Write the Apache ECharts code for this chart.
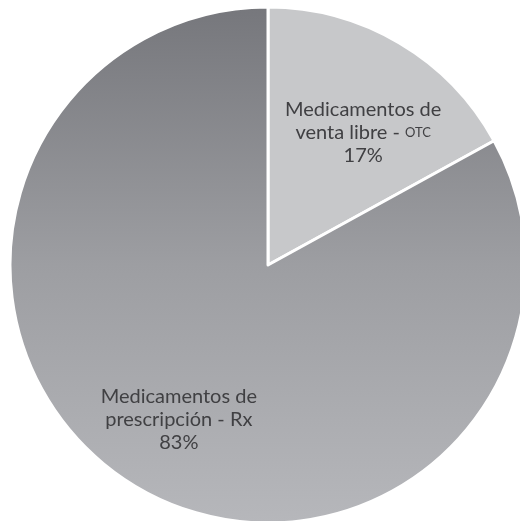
<!DOCTYPE html>
<html><head><meta charset="utf-8">
<script src="https://cdn.jsdelivr.net/npm/echarts@6/dist/echarts.min.js"></script>
<style>html,body{margin:0;padding:0;background:#fff}#c{width:520px;height:521px}</style>
</head><body><div id="c"></div>
<script>
const categories = ['Medicamentos de venta libre - OTC', 'Medicamentos de prescripción - Rx'];
const labelLine1 = ['Medicamentos de', 'Medicamentos de'];
const labelLine2 = ['venta libre - ', 'prescripción - Rx'];
const labelSmallCaps = ['OTC', ''];
const values = [17, 83];

const chart = echarts.init(document.getElementById('c'));
const cx = 268, cy = 265, R = 258;
const offsets = [[28, -19], [-22, 41]];
const fills = [
  '#c7c8ca',
  {type: 'linear', x: 0, y: cy - R, x2: 0, y2: cy + R, global: true,
   colorStops: [{offset: 0, color: '#76777c'}, {offset: 0.5, color: '#9d9ea2'}, {offset: 1, color: '#b6b7bb'}]}
];
const data = categories.map((name, i) => ({
  name, value: values[i],
  itemStyle: {color: fills[i]},
  label: {
    offset: offsets[i],
    formatter: '{a|' + labelLine1[i] + '}\n{a|' + labelLine2[i] + '}' + (labelSmallCaps[i] ? '{sc|' + labelSmallCaps[i] + '}' : '') + '\n{a|' + values[i] + '%}'
  }
}));
chart.setOption({
  animation: false,
  series: [{
    type: 'pie',
    center: [cx, cy],
    radius: [0, R],
    startAngle: 90,
    clockwise: true,
    itemStyle: {borderColor: '#ffffff', borderWidth: 3},
    label: {
      show: true, position: 'inside', align: 'center',
      rich: {
        a: {fontFamily: 'Lato', fontSize: 20, fontWeight: 400, color: '#404043', lineHeight: 23, align: 'center'},
        sc: {fontFamily: 'Lato', fontSize: 13, fontWeight: 400, color: '#404043', lineHeight: 23}
      }
    },
    labelLine: {show: false},
    emphasis: {disabled: true},
    data
  }]
});
</script></body></html>
